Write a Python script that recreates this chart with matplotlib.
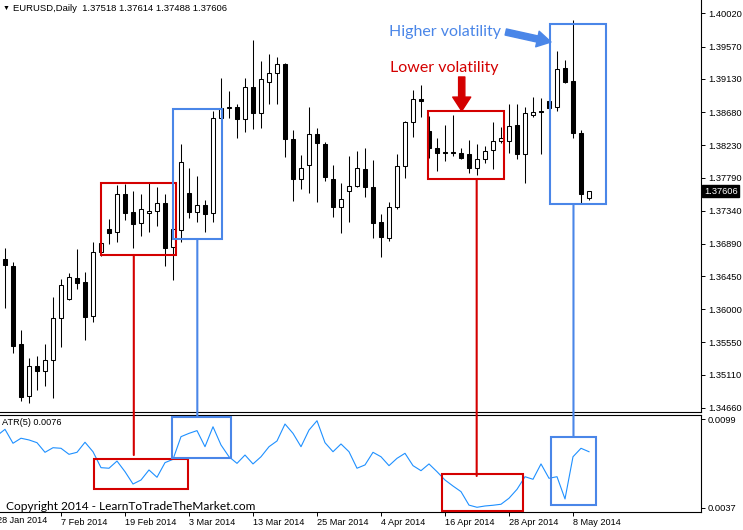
import numpy as np
import matplotlib.pyplot as plt
from matplotlib.patches import Rectangle, ConnectionPatch
from matplotlib.ticker import FormatStrFormatter
import matplotlib.transforms as mtransforms

plt.rcParams['font.family'] = ['Liberation Sans', 'DejaVu Sans']

# EURUSD daily bars, 29 Jan 2014 .. 12 May 2014
opens = [1.36683, 1.36588, 1.35528, 1.34821, 1.35229, 1.35161, 1.35311, 1.35881, 1.36140, 1.36425,
         1.36371, 1.35909, 1.36778, 1.37091, 1.37050, 1.37567, 1.37322, 1.37172, 1.37308, 1.37336,
         1.37444, 1.36846, 1.37077, 1.37580, 1.37322, 1.37417, 1.37308, 1.38599, 1.38742, 1.38749,
         1.38586, 1.39021, 1.38667, 1.39089, 1.39211, 1.39333, 1.38314, 1.37770, 1.37961, 1.38382,
         1.38246, 1.37770, 1.37390, 1.37607, 1.37675, 1.37906, 1.37662, 1.37186, 1.36969, 1.37390,
         1.37947, 1.38545, 1.38851, 1.38423, 1.38192, 1.38137, 1.38137, 1.38124, 1.38110, 1.37920,
         1.38042, 1.38165, 1.38287, 1.38287, 1.38504, 1.38110, 1.38640, 1.38695, 1.38830, 1.38749,
         1.39279, 1.39102, 1.38396, 1.37518]
highs = [1.36833, 1.36642, 1.35718, 1.35338, 1.35365, 1.35528, 1.36167, 1.36411, 1.36493, 1.36819,
         1.36507, 1.36914, 1.36905, 1.37227, 1.37689, 1.37702, 1.37607, 1.37567, 1.37716, 1.37662,
         1.37567, 1.37104, 1.38246, 1.37920, 1.37811, 1.37485, 1.38695, 1.39143, 1.38966, 1.38790,
         1.39143, 1.39659, 1.39374, 1.39469, 1.39428, 1.39347, 1.38436, 1.38097, 1.38749, 1.38463,
         1.38273, 1.37961, 1.37716, 1.38083, 1.38151, 1.38192, 1.38029, 1.37295, 1.37458, 1.38110,
         1.38559, 1.38980, 1.39048, 1.38627, 1.38328, 1.38504, 1.38640, 1.38192, 1.38300, 1.38246,
         1.38219, 1.38545, 1.38477, 1.38790, 1.38790, 1.38749, 1.38885, 1.38871, 1.38844, 1.39510,
         1.39388, 1.39931, 1.38436, 1.37614]
lows = [1.36017, 1.35406, 1.34753, 1.34726, 1.34903, 1.34957, 1.34794, 1.35487, 1.36126, 1.36275,
        1.35582, 1.35827, 1.36724, 1.36887, 1.36914, 1.37213, 1.36833, 1.36996, 1.37050, 1.37132,
        1.36588, 1.36398, 1.36914, 1.37240, 1.37186, 1.37050, 1.37186, 1.38586, 1.38599, 1.38328,
        1.38409, 1.38450, 1.38463, 1.38790, 1.38790, 1.38069, 1.37471, 1.37634, 1.37580, 1.37458,
        1.37743, 1.37254, 1.37037, 1.37186, 1.37662, 1.37526, 1.36969, 1.36710, 1.36928, 1.37363,
        1.37784, 1.38341, 1.38613, 1.38056, 1.37879, 1.38015, 1.38083, 1.38042, 1.37852, 1.37825,
        1.37988, 1.37906, 1.38260, 1.38124, 1.38042, 1.37716, 1.38613, 1.38110, 1.38735, 1.38695,
        1.39075, 1.38328, 1.37444, 1.37488]
closes = [1.36602, 1.35501, 1.34808, 1.35229, 1.35161, 1.35311, 1.35881, 1.36330, 1.36439, 1.36357,
          1.35895, 1.36778, 1.36901, 1.37037, 1.37567, 1.37308, 1.37159, 1.37363, 1.37336, 1.37444,
          1.36833, 1.37091, 1.38001, 1.37322, 1.37417, 1.37295, 1.38599, 1.38735, 1.38749, 1.38586,
          1.39021, 1.38667, 1.39129, 1.39211, 1.39333, 1.38314, 1.37770, 1.37920, 1.38382, 1.38260,
          1.37798, 1.37390, 1.37499, 1.37675, 1.37920, 1.37662, 1.37172, 1.36982, 1.37390, 1.37947,
          1.38545, 1.38858, 1.38837, 1.38192, 1.38124, 1.38124, 1.38124, 1.38056, 1.37920, 1.38042,
          1.38151, 1.38287, 1.38328, 1.38491, 1.38110, 1.38667, 1.38681, 1.38681, 1.38735, 1.39265,
          1.39089, 1.38396, 1.37567, 1.37606]

# ATR(5), first value belongs to 28 Jan (bar -1)
atr = [0.00874,
       0.00918, 0.00821, 0.00856, 0.00844, 0.00825, 0.00758, 0.00790, 0.00786, 0.00744, 0.00758,
       0.00828, 0.00762, 0.00651, 0.00647, 0.00697, 0.00623, 0.00537, 0.00565, 0.00635, 0.00584,
       0.00686, 0.00709, 0.00867, 0.00890, 0.00909, 0.00797, 0.00936, 0.00809, 0.00727, 0.00681,
       0.00739, 0.00677, 0.00727, 0.00797, 0.00837, 0.00955, 0.00890, 0.00797, 0.00913, 0.00978,
       0.00825, 0.00762, 0.00816, 0.00762, 0.00647, 0.00670, 0.00758, 0.00727, 0.00665, 0.00716,
       0.00751, 0.00665, 0.00630, 0.00677, 0.00623, 0.00565, 0.00523, 0.00484, 0.00390, 0.00375,
       0.00384, 0.00389, 0.00396, 0.00438, 0.00500, 0.00588, 0.00570, 0.00677, 0.00577, 0.00588,
       0.00433, 0.00727, 0.00786, 0.00762]

date_ticks = [7, 15, 23, 31, 39, 47, 55, 63, 71]
date_labels = ['7 Feb 2014', '19 Feb 2014', '3 Mar 2014', '13 Mar 2014', '25 Mar 2014',
               '4 Apr 2014', '16 Apr 2014', '28 Apr 2014', '8 May 2014']
price_ticks = [1.40020, 1.39570, 1.39130, 1.38680, 1.38230, 1.37790, 1.37340,
               1.36890, 1.36450, 1.36000, 1.35550, 1.35110, 1.34660]
atr_ticks = [0.0099, 0.0037]

RED = '#d40000'
BLUE = '#4a86e8'

o = np.array(opens)
h = np.array(highs)
l = np.array(lows)
c = np.array(closes)
x = np.arange(len(c))

fig = plt.figure(figsize=(7.43, 5.30), dpi=100)
ax = fig.add_axes([0, 0.2217, 0.94347, 0.7783])
ax2 = fig.add_axes([0, 0.0334, 0.94347, 0.18415], sharex=ax)

# candles
up = c >= o
ax.vlines(x, l, h, color='black', linewidth=0.75, zorder=2)
ax.bar(x, np.abs(c - o), bottom=np.minimum(o, c), width=0.5,
       color=np.where(up, 'white', 'black'), edgecolor='black', linewidth=0.75, zorder=3)

ax.set_xlim(-0.625, 87.0)
ax.set_ylim(1.34597, 1.40203)
for s in ['top', 'left']:
    ax.spines[s].set_visible(False)
ax.spines['right'].set_linewidth(0.8)
ax.spines['bottom'].set_linewidth(0.8)
ax.yaxis.tick_right()
ax.set_yticks(price_ticks)
ax.yaxis.set_major_formatter(FormatStrFormatter('%.5f'))
ax.tick_params(axis='y', direction='out', length=3, width=0.7, pad=2, labelsize=6.7)
ax.tick_params(axis='x', bottom=False, labelbottom=False)

# current price tag
ax.text(1.004, closes[-1], '%.5f' % closes[-1], transform=ax.get_yaxis_transform(),
        color='white', fontsize=6.7, va='center', ha='left',
        bbox=dict(boxstyle='square,pad=0.2', fc='black', ec='black'))

# ATR panel
ax2.plot(np.arange(-1, len(c)), atr, color='#1e90ff', linewidth=0.8)
ax2.set_ylim(0.0034, 0.0102)
ax2.spines['left'].set_visible(False)
for s in ['top', 'right', 'bottom']:
    ax2.spines[s].set_linewidth(0.8)
ax2.yaxis.tick_right()
ax2.set_yticks(atr_ticks)
ax2.yaxis.set_major_formatter(FormatStrFormatter('%.4f'))
ax2.tick_params(axis='y', direction='out', length=3, width=0.7, pad=2, labelsize=6.7)
ax2.set_xticks(date_ticks)
ax2.set_xticklabels(date_labels, ha='left')
ax2.tick_params(axis='x', direction='out', length=3, width=0.7, pad=1, labelsize=6.6)
ax2.text(-1, -0.08, '28 Jan 2014', transform=ax2.get_xaxis_transform(),
         fontsize=6.6, ha='left', va='center')
ax2.text(0.003, 0.915, 'ATR(5) %.4f' % atr[-1], transform=ax2.transAxes,
         fontsize=6.6, ha='left', va='center')

# header and footer
fig.text(0.003, 1 - 8.5 / 530, '\u25bc', fontsize=5, va='center', ha='left')
fig.text(12.7 / 743, 1 - 8.5 / 530,
         'EURUSD,Daily  %.5f %.5f %.5f %.5f' % (opens[-1], highs[-1], lows[-1], closes[-1]),
         fontsize=6.8, va='center', ha='left')
fig.text(6 / 743, 1 - 506 / 530, 'Copyright 2014 - LearnToTradeTheMarket.com',
         fontsize=8.6, family=['Lato', 'DejaVu Sans'], va='center', ha='left')

# highlight boxes: (x0, x1, y0, y1) in bars / price or ATR units
main_boxes = [(12.0, 21.4, 1.36738, 1.37716, RED), (20.96, 27.1, 1.36951, 1.38718, BLUE),
              (52.9, 62.4, 1.37770, 1.38695, RED), (68.1, 75.1, 1.37427, 1.39873, BLUE)]
atr_boxes = [(11.1, 22.9, 0.00500, 0.00711, RED), (20.9, 28.2, 0.00716, 0.01006, BLUE),
             (54.6, 64.7, 0.00351, 0.00607, RED), (68.25, 73.9, 0.00391, 0.00867, BLUE)]
links = [(16.1, 1.36738, 0.00739, RED), (24.04, 1.36951, 0.01006, BLUE),
         (58.96, 1.37770, 0.00593, RED), (71.06, 1.37427, 0.00867, BLUE)]

for a, boxes in ((ax, main_boxes), (ax2, atr_boxes)):
    for x0, x1, y0, y1, col in boxes:
        a.add_patch(Rectangle((x0, y0), x1 - x0, y1 - y0, fill=False, edgecolor=col,
                              linewidth=1.5, zorder=5, clip_on=False))
for xb, ya, yb, col in links:
    fig.add_artist(ConnectionPatch(xyA=(xb, ya), coordsA=ax.transData,
                                   xyB=(xb, yb), coordsB=ax2.transData,
                                   color=col, linewidth=1.5, zorder=5))

# labels and arrows
ax.text(48.0, 1.39764, 'Higher volatility', color=BLUE, fontsize=11.5,
        family=['Lato', 'DejaVu Sans'], va='center', ha='left')
ax.text(48.1, 1.39283, 'Lower volatility', color=RED, fontsize=11.5,
        family=['Lato', 'DejaVu Sans'], va='center', ha='left')
ax.annotate('', xy=(68.25, 1.39632), xytext=(62.6, 1.39768),
            arrowprops=dict(arrowstyle='simple,head_length=1.0,head_width=1.15,tail_width=0.45',
                            color=BLUE, shrinkA=0, shrinkB=0, mutation_scale=10))
ax.annotate('', xy=(57.09, 1.38695), xytext=(57.09, 1.39157),
            arrowprops=dict(arrowstyle='simple,head_length=1.0,head_width=1.3,tail_width=0.45',
                            color=RED, shrinkA=0, shrinkB=0, mutation_scale=10))

fig.savefig('out.png', dpi=100)
